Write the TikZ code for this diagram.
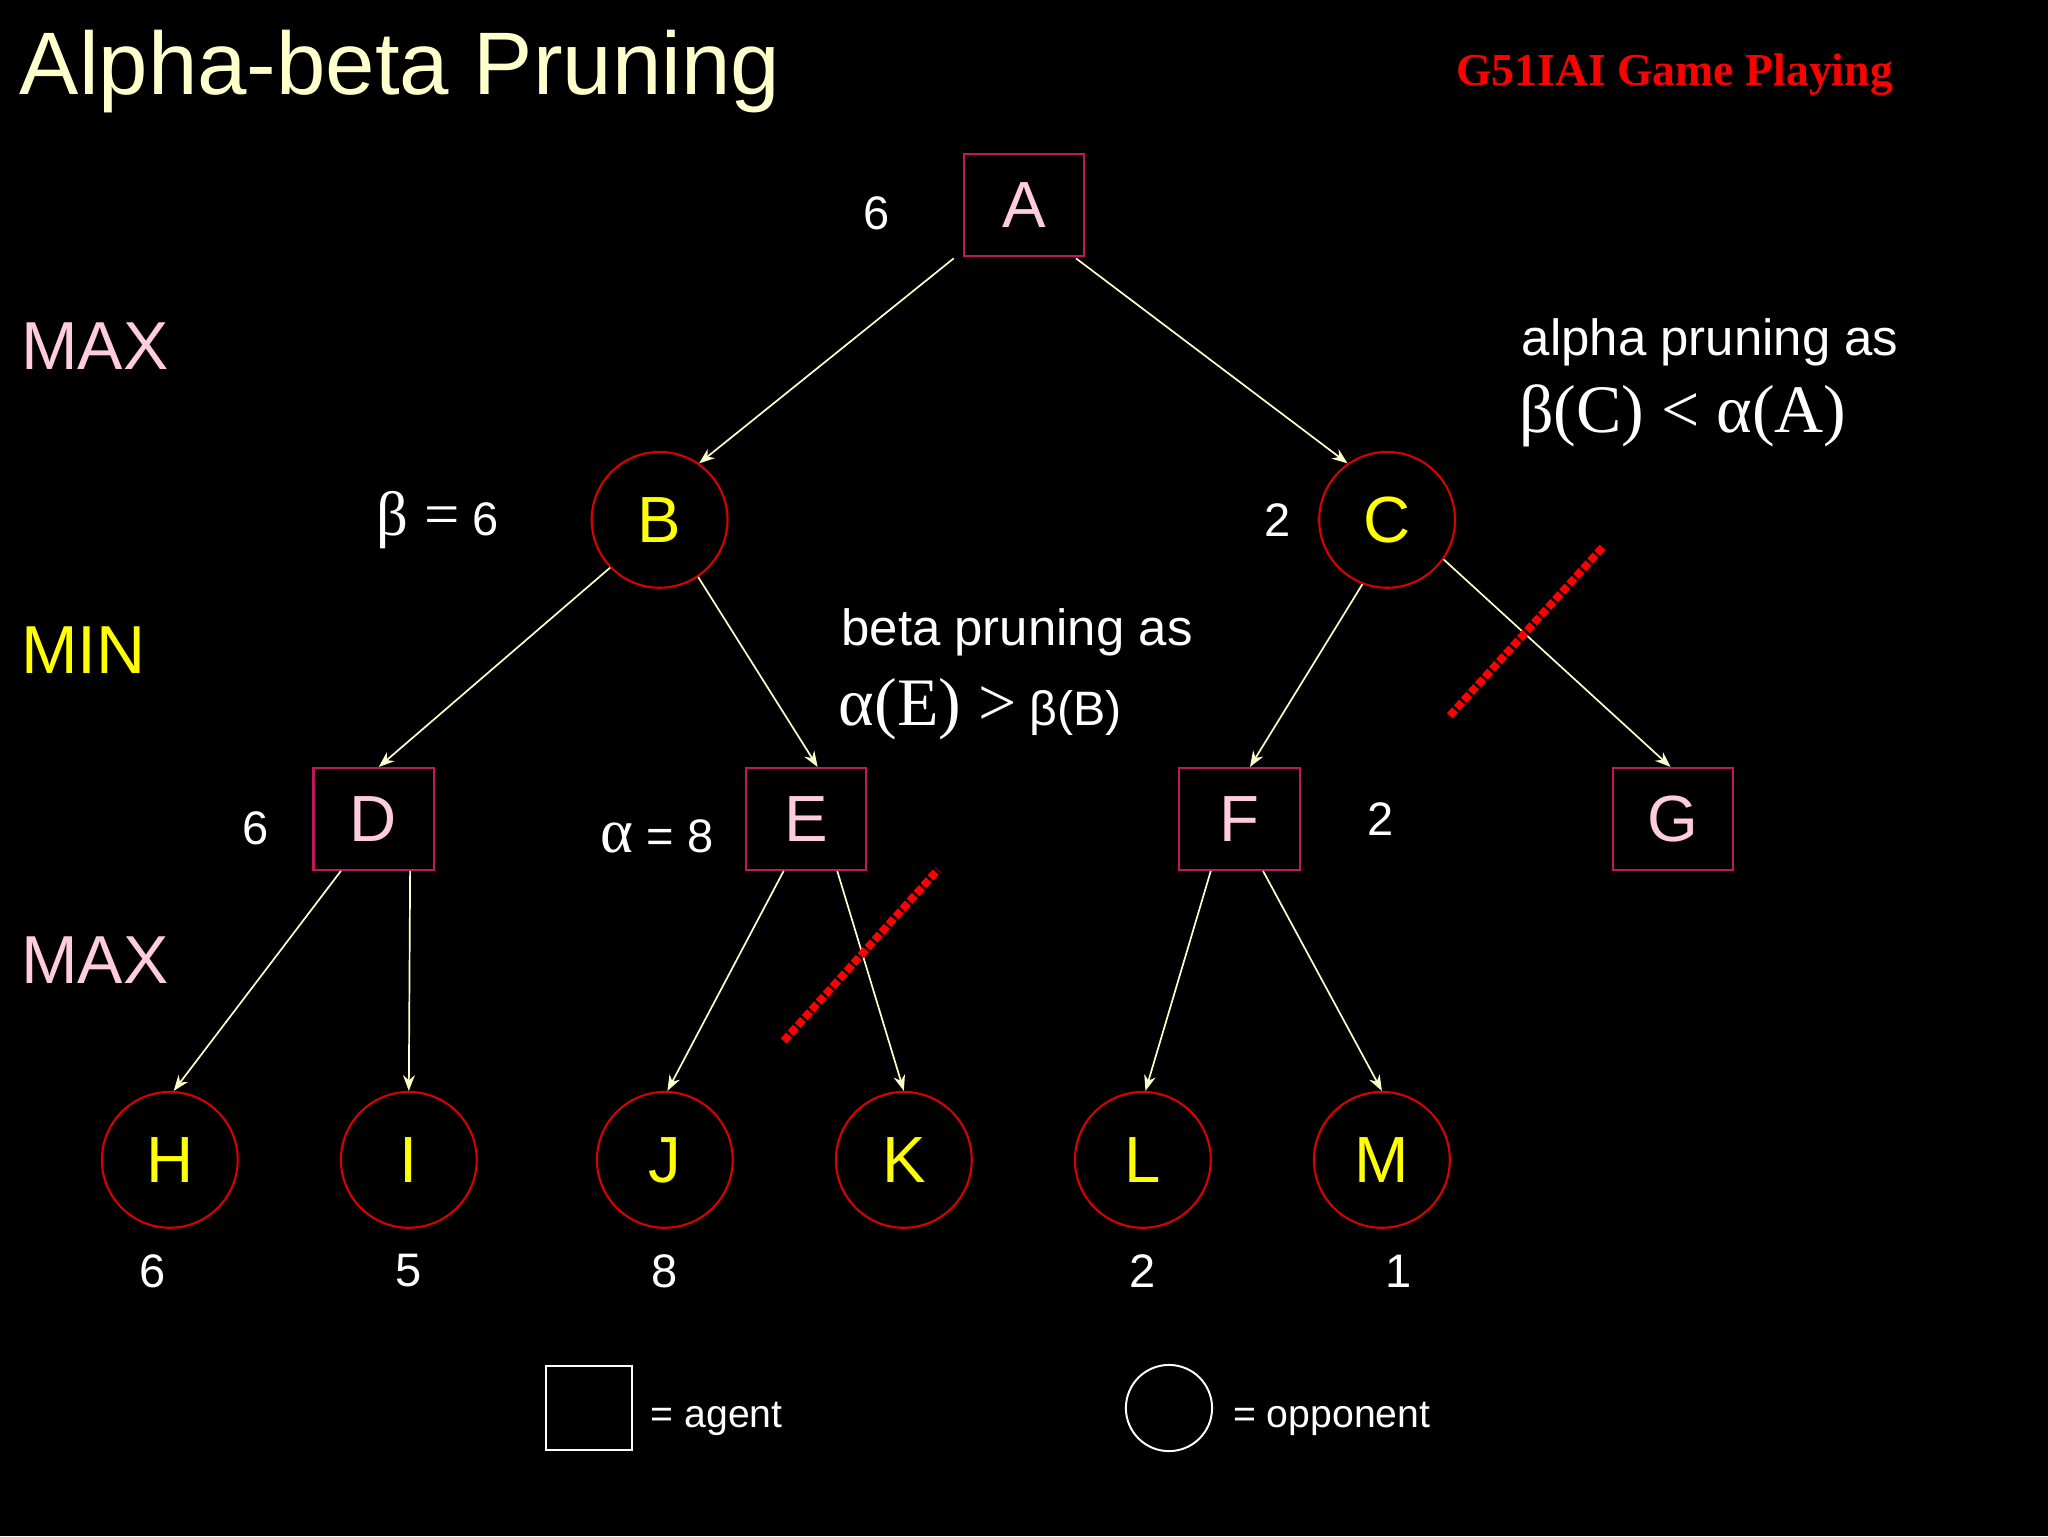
\documentclass[tikz,border=0pt]{standalone}
\usepackage{fontspec}
\setmainfont{Liberation Sans}
\newfontfamily\serifA{Liberation Serif}
\usetikzlibrary{arrows.meta}
\definecolor{cream}{HTML}{FFFFCC}
\definecolor{pinkL}{HTML}{FFCCDD}
\definecolor{crim}{HTML}{C0185A}
\definecolor{yel}{HTML}{FFFF00}
\begin{document}
\begin{tikzpicture}[x=1pt,y=-1pt,
 sq/.style={draw=crim,line width=1.6pt,minimum width=92pt,minimum height=78pt,inner sep=0pt,text=pinkL,font=\fontsize{50}{50}\selectfont},
 ci/.style={draw=red!85!black,line width=1.6pt,circle,minimum size=104pt,inner sep=0pt,text=yel,font=\fontsize{50}{50}\selectfont},
 ed/.style={draw=cream,line width=1.3pt,-{Stealth[length=12pt,width=9pt]}},
 lab/.style={text=white,font=\fontsize{36}{36}\selectfont,inner sep=0pt},
 lev/.style={font=\fontsize{52}{52}\selectfont,inner sep=0pt,anchor=west},
 cut/.style={draw=red,line width=6pt,dotted,line cap=butt}]
\fill[black] (0,0) rectangle (1568,1176);
\useasboundingbox (0,0) rectangle (1568,1176);
\node[text=cream,font=\fontsize{68}{68}\selectfont,anchor=west,inner sep=0pt] (title) at (15,55) {Alpha-beta Pruning};
\node[text=red,font=\serifA\bfseries\fontsize{35}{35}\selectfont,inner sep=0pt] (sub) at (1282,57) {G51IAI Game Playing};
\node[lev,text=pinkL] (max1) at (16,265) {MAX};
\node[lev,text=yel] (min1) at (16,498) {MIN};
\node[lev,text=pinkL] (max2) at (16,735) {MAX};
\node[sq] (A) at (784,157) {A};
\node[ci] (B) at (505,398) {B};
\node[ci] (C) at (1062,398) {C};
\node[sq] (D) at (286,627) {D};
\node[sq] (E) at (617,627) {E};
\node[sq] (F) at (949,627) {F};
\node[sq] (G) at (1281,627) {G};
\node[ci] (H) at (130,888) {H};
\node[ci] (I) at (313,888) {I};
\node[ci] (J) at (509,888) {J};
\node[ci] (K) at (692,888) {K};
\node[ci] (L) at (875,888) {L};
\node[ci] (M) at (1058,888) {M};
\draw[ed] ([xshift=-7pt,yshift=-1pt]A.south west) -- (B.55);
\draw[ed] ([xshift=-7pt,yshift=-1pt]A.south east) -- (C.125);
\draw[ed] (B.224) -- ([xshift=4pt]D.north);
\draw[ed] (B.304) -- ([xshift=9pt]E.north);
\draw[ed] (C.249) -- ([xshift=8pt]F.north);
\draw[ed] (C.325) -- ([xshift=-2pt]G.north);
\draw[ed] ([xshift=-25pt]D.south) -- ([xshift=3pt]H.north);
\draw[ed] ([xshift=28pt]D.south) -- (I.north);
\draw[ed] ([xshift=-17pt]E.south) -- ([xshift=2pt]J.north);
\draw[ed] ([xshift=24pt]E.south) -- (K.north);
\draw[ed] ([xshift=-22pt]F.south) -- ([xshift=2pt]L.north);
\draw[ed] ([xshift=18pt]F.south) -- (M.north);
\node[lab] (vA) at (671,163) {6};
\node[lab] (vB) at (335,398) {{\serifA\fontsize{48}{48}\selectfont β =} 6};
\node[lab] (vC) at (978,398) {2};
\node[lab] (vD) at (196,634) {6};
\node[lab] (vE) at (503,640) {{\serifA\fontsize{48}{48}\selectfont α} = 8};
\node[lab] (vF) at (1057,627) {2};
\node[lab] (vH) at (117,973) {6};
\node[lab] (vI) at (313,973) {5};
\node[lab] (vJ) at (509,973) {8};
\node[lab] (vL) at (875,973) {2};
\node[lab] (vM) at (1071,973) {1};
\node[lab,anchor=west,font=\fontsize{39}{39}\selectfont] (ap) at (1165,262) {alpha pruning as};
\node[lab,anchor=west,font=\serifA\fontsize{52}{52}\selectfont] (ap2) at (1163,318) {β(C) < α(A)};
\node[lab,anchor=west,font=\fontsize{39}{39}\selectfont] (bp) at (644,484) {beta pruning as};
\node[lab,anchor=west,font=\fontsize{37}{37}\selectfont] (bp2) at (642,543) {{\serifA\fontsize{52}{52}\selectfont α(E) >} β(B)};
\coordinate (c1a) at (1110,548); \coordinate (c1b) at (1228,418);
\coordinate (c2a) at (600,797); \coordinate (c2b) at (718,666);
\draw[cut] (c1a) -- (c1b);
\draw[cut] (c2a) -- (c2b);
\node[draw=white,line width=1.5pt,minimum width=66pt,minimum height=65pt,inner sep=0pt] (lsq) at (451,1078) {};
\node[lab,anchor=west,font=\fontsize{30}{30}\selectfont] (lag) at (498,1086) {= agent};
\node[draw=white,line width=1.5pt,circle,minimum size=66pt,inner sep=0pt] (lci) at (895,1078) {};
\node[lab,anchor=west,font=\fontsize{30}{30}\selectfont] (lop) at (944,1086) {= opponent};
\end{tikzpicture}
\end{document}
